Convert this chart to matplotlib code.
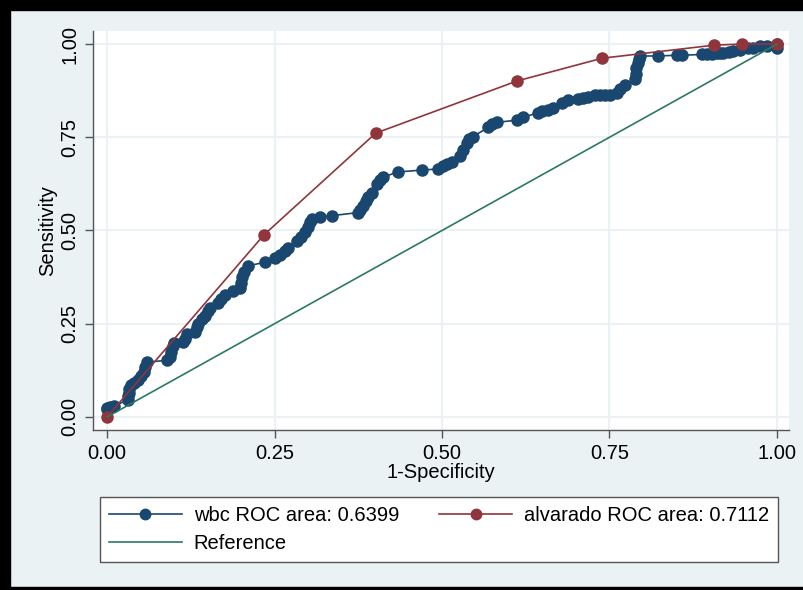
import matplotlib
matplotlib.use("Agg")
import matplotlib.pyplot as plt
from matplotlib.patches import Rectangle
from matplotlib.lines import Line2D

plt.rcParams['font.family'] = ['Liberation Sans', 'DejaVu Sans']

# alvarado ROC points
alv_x = [0.0, 0.234, 0.401, 0.612, 0.739, 0.906, 0.948, 1.0]
alv_y = [0.0, 0.488, 0.761, 0.901, 0.962, 0.997, 1.0, 1.0]

# wbc ROC points
wbc_x = [0.000, 0.000, 0.005, 0.010, 0.031, 0.031, 0.033, 0.033, 0.035, 0.040,
         0.046, 0.050, 0.055, 0.057, 0.060, 0.090, 0.094, 0.096, 0.098, 0.100,
         0.113, 0.116, 0.119, 0.131, 0.134, 0.136, 0.142, 0.146, 0.150, 0.154,
         0.166, 0.170, 0.176, 0.188, 0.199, 0.200, 0.202, 0.205, 0.210, 0.236,
         0.250, 0.258, 0.265, 0.270, 0.283, 0.290, 0.296, 0.300, 0.303, 0.306,
         0.318, 0.336, 0.375, 0.378, 0.382, 0.386, 0.390, 0.396, 0.403, 0.407,
         0.412, 0.434, 0.470, 0.494, 0.502, 0.508, 0.515, 0.527, 0.531, 0.537,
         0.541, 0.546, 0.569, 0.575, 0.582, 0.612, 0.621, 0.643, 0.650, 0.658,
         0.666, 0.679, 0.688, 0.703, 0.710, 0.718, 0.728, 0.736, 0.744, 0.751,
         0.761, 0.765, 0.773, 0.788, 0.790, 0.790, 0.792, 0.794, 0.796, 0.822,
         0.851, 0.858, 0.888, 0.895, 0.903, 0.910, 0.915, 0.920, 0.928, 0.935,
         0.945, 0.957, 0.964, 0.975, 0.985, 1.000, 1.000]
wbc_y = [0.020, 0.025, 0.027, 0.030, 0.045, 0.055, 0.065, 0.075, 0.085, 0.090,
         0.100, 0.110, 0.120, 0.135, 0.147, 0.152, 0.160, 0.175, 0.190, 0.197,
         0.200, 0.210, 0.222, 0.228, 0.240, 0.250, 0.262, 0.272, 0.283, 0.292,
         0.305, 0.315, 0.328, 0.338, 0.345, 0.360, 0.375, 0.390, 0.405, 0.415,
         0.425, 0.435, 0.445, 0.453, 0.472, 0.482, 0.495, 0.510, 0.522, 0.532,
         0.536, 0.540, 0.548, 0.555, 0.565, 0.578, 0.590, 0.600, 0.625, 0.635,
         0.643, 0.657, 0.662, 0.665, 0.672, 0.678, 0.684, 0.700, 0.716, 0.735,
         0.745, 0.751, 0.777, 0.785, 0.790, 0.796, 0.804, 0.815, 0.820, 0.823,
         0.828, 0.842, 0.850, 0.853, 0.856, 0.858, 0.863, 0.863, 0.863, 0.863,
         0.870, 0.880, 0.890, 0.905, 0.920, 0.935, 0.950, 0.960, 0.968, 0.968,
         0.970, 0.970, 0.972, 0.972, 0.972, 0.975, 0.975, 0.977, 0.980, 0.982,
         0.985, 0.990, 0.990, 0.995, 0.995, 0.990, 1.000]

ticks = [0.0, 0.25, 0.5, 0.75, 1.0]
tick_labels = ["0.00", "0.25", "0.50", "0.75", "1.00"]

navy = '#1A476F'
maroon = '#90353B'
green = '#2B7866'
bg = '#EAF2F3'
fs = 14.5

fig = plt.figure(figsize=(8.04, 5.9), dpi=100, facecolor=bg)
ax = fig.add_axes([93/804, 1 - 430/590, 696/804, 399/590])
ax.set_facecolor('white')

ax.plot(wbc_x, wbc_y, color=navy, lw=1.2, marker='o', ms=8, mec=navy, mfc=navy, zorder=3)
ax.plot(alv_x, alv_y, color=maroon, lw=1.2, marker='o', ms=8, mec=maroon, mfc=maroon, zorder=4)
ax.plot([0, 1], [0, 1], color=green, lw=1.2, zorder=5)

ax.set_xlim(-0.021, 1.018)
ax.set_ylim(-0.035, 1.035)
ax.set_xticks(ticks)
ax.set_xticklabels(tick_labels)
ax.set_yticks(ticks)
ax.set_yticklabels(tick_labels, rotation=90, va='center')
ax.tick_params(labelsize=fs, length=6, width=1, color='#555555', direction='out', pad=4)
ax.grid(True, color=bg, lw=1.5, zorder=0)
ax.set_axisbelow(True)
for s in ['top', 'right']:
    ax.spines[s].set_visible(False)
for s in ['left', 'bottom']:
    ax.spines[s].set_color('#555555')
    ax.spines[s].set_linewidth(1)
ax.set_xlabel('1-Specificity', fontsize=fs, labelpad=0)
ax.set_ylabel('Sensitivity', fontsize=fs, labelpad=2)

# legend: column-wise fill, so Reference goes under wbc
h_wbc = Line2D([], [], color=navy, lw=1.2, marker='o', ms=7.5, mfc=navy, mec=navy)
h_alv = Line2D([], [], color=maroon, lw=1.2, marker='o', ms=7.5, mfc=maroon, mec=maroon)
h_ref = Line2D([], [], color=green, lw=1.2)
leg = fig.legend([h_wbc, h_ref, h_alv],
                 ['wbc ROC area: 0.6399', 'Reference', 'alvarado ROC area: 0.7112'],
                 ncol=2, loc='upper left',
                 bbox_to_anchor=(100/804, 1 - 497/590),
                 fontsize=fs, fancybox=False, framealpha=1,
                 edgecolor='#555555', handlelength=3.6, borderaxespad=0,
                 labelspacing=0.45, handletextpad=0.6, borderpad=0.45,
                 columnspacing=2.0)
leg.get_frame().set_linewidth(1)

# black frame around the graph
fig.patches.append(Rectangle((0, 1 - 10/590), 1, 10/590, transform=fig.transFigure, color='black'))
fig.patches.append(Rectangle((0, 0), 10/804, 1, transform=fig.transFigure, color='black'))
fig.patches.append(Rectangle((0, 0), 1, 3/590, transform=fig.transFigure, color='black'))

fig.savefig('out.png', dpi=100, facecolor=bg)
